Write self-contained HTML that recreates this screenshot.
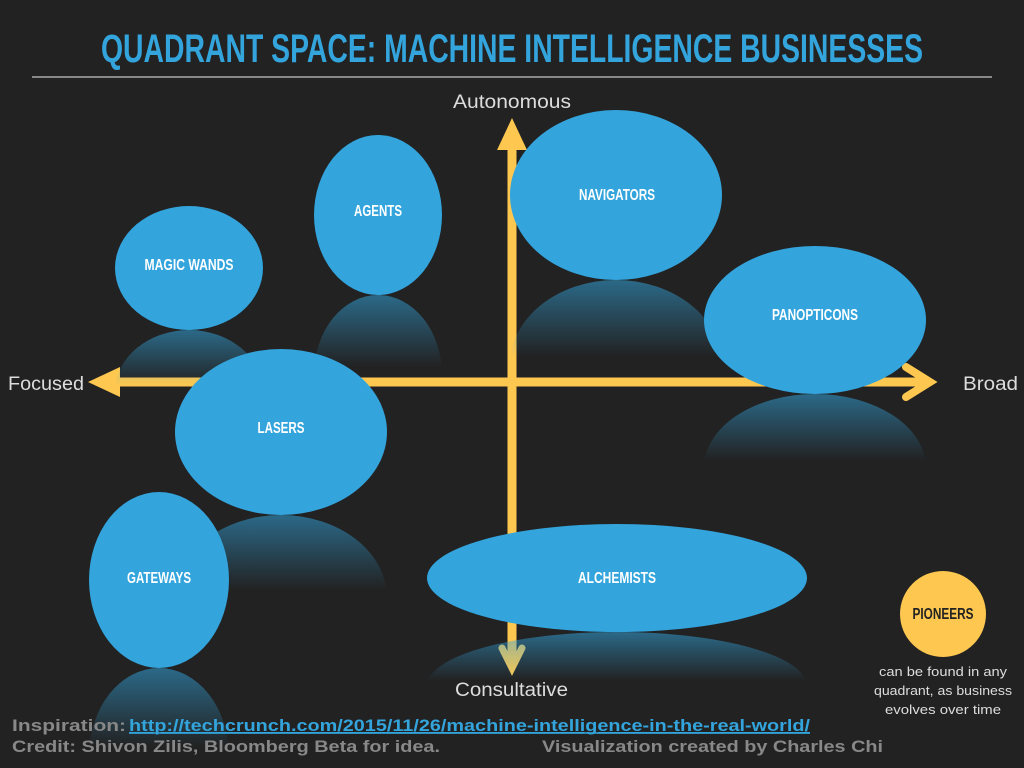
<!DOCTYPE html>
<html><head><meta charset="utf-8"><style>
html,body{margin:0;background:#222;overflow:hidden;width:1024px;height:768px;}
svg{display:block;}
</style></head><body>
<svg width="1024" height="768" viewBox="0 0 1024 768" xmlns="http://www.w3.org/2000/svg">
<defs>
<linearGradient id="rf" x1="0" y1="0" x2="0" y2="1">
<stop offset="0" stop-color="#33a4dc" stop-opacity="0.55"/>
<stop offset="0.45" stop-color="#33a4dc" stop-opacity="0"/>
</linearGradient>
<clipPath id="cp"><rect width="1024" height="768"/></clipPath>
</defs>
<g clip-path="url(#cp)">
<rect width="1024" height="768" fill="#222"/>
<text x="512" y="62" text-anchor="middle" font-family="Liberation Sans, sans-serif" font-weight="bold" font-size="40" fill="#33a4dc" textLength="822" lengthAdjust="spacingAndGlyphs">QUADRANT SPACE: MACHINE INTELLIGENCE BUSINESSES</text>
<line x1="32" y1="77" x2="992" y2="77" stroke="#888" stroke-width="2"/>

<g font-family="Liberation Sans, sans-serif" fill="#ddd" font-size="19">
<text x="453" y="108" textLength="118" lengthAdjust="spacingAndGlyphs">Autonomous</text>
<text x="455" y="696" textLength="113" lengthAdjust="spacingAndGlyphs">Consultative</text>
<text x="8" y="390" textLength="76" lengthAdjust="spacingAndGlyphs">Focused</text>
<text x="963" y="390" textLength="55" lengthAdjust="spacingAndGlyphs">Broad</text>
</g>

<g stroke="#fdc750" fill="#fdc750">
<line x1="512" y1="140" x2="512" y2="660" stroke-width="9"/>
<polygon points="512,118 497,150 527,150" stroke="none"/>
<line x1="115" y1="382" x2="930" y2="382" stroke-width="9"/>
<polygon points="88,382 120,367 120,397" stroke="none"/>
<polyline points="906,367 930,382 906,397" fill="none" stroke-width="8" stroke-linecap="round"/>
<polyline points="502,648 512,668 522,648" fill="none" stroke-width="7" stroke-linecap="round"/>
</g>

<g fill="url(#rf)">
<ellipse cx="189" cy="392" rx="74" ry="62"/>
<ellipse cx="378" cy="375" rx="64" ry="80"/>
<ellipse cx="616" cy="365" rx="106" ry="85"/>
<ellipse cx="815" cy="468" rx="111" ry="74"/>
<ellipse cx="281" cy="598" rx="106" ry="83"/>
<ellipse cx="159" cy="756" rx="70" ry="88"/>
<ellipse cx="617" cy="686" rx="190" ry="54"/>
</g>

<g fill="#33a4dc">
<ellipse cx="189" cy="268" rx="74" ry="62"/>
<ellipse cx="378" cy="215" rx="64" ry="80"/>
<ellipse cx="616" cy="195" rx="106" ry="85"/>
<ellipse cx="815" cy="320" rx="111" ry="74"/>
<ellipse cx="281" cy="432" rx="106" ry="83"/>
<ellipse cx="159" cy="580" rx="70" ry="88"/>
<ellipse cx="617" cy="578" rx="190" ry="54"/>
</g>
<circle cx="943" cy="614" r="43" fill="#fdc750"/>

<g font-family="Liberation Sans, sans-serif" font-weight="bold" font-size="16" fill="#fff" text-anchor="middle" lengthAdjust="spacingAndGlyphs">
<text x="189" y="270" textLength="89" lengthAdjust="spacingAndGlyphs">MAGIC WANDS</text>
<text x="378" y="216" textLength="48" lengthAdjust="spacingAndGlyphs">AGENTS</text>
<text x="617" y="200" textLength="76" lengthAdjust="spacingAndGlyphs">NAVIGATORS</text>
<text x="815" y="320" textLength="86" lengthAdjust="spacingAndGlyphs">PANOPTICONS</text>
<text x="281" y="433" textLength="47" lengthAdjust="spacingAndGlyphs">LASERS</text>
<text x="159" y="583" textLength="64" lengthAdjust="spacingAndGlyphs">GATEWAYS</text>
<text x="617" y="583" textLength="78" lengthAdjust="spacingAndGlyphs">ALCHEMISTS</text>
<text x="943" y="619" fill="#222" textLength="61" lengthAdjust="spacingAndGlyphs">PIONEERS</text>
</g>
<g font-family="Liberation Sans, sans-serif" font-size="13" fill="#ddd" text-anchor="middle">
<text x="943" y="676" textLength="128" lengthAdjust="spacingAndGlyphs">can be found in any</text>
<text x="943" y="695" textLength="138" lengthAdjust="spacingAndGlyphs">quadrant, as business</text>
<text x="943" y="714" textLength="116" lengthAdjust="spacingAndGlyphs">evolves over time</text>
</g>

<g font-family="Liberation Sans, sans-serif" font-weight="bold" font-size="17" fill="#888">
<text x="12" y="731" textLength="114" lengthAdjust="spacingAndGlyphs">Inspiration:</text>
<text x="129" y="731" fill="#33a4dc" text-decoration="underline" textLength="681" lengthAdjust="spacingAndGlyphs">http://techcrunch.com/2015/11/26/machine-intelligence-in-the-real-world/</text>
<line x1="129" y1="733" x2="810" y2="733" stroke="#33a4dc" stroke-width="1.5"/>
<text x="12" y="752" textLength="428" lengthAdjust="spacingAndGlyphs">Credit: Shivon Zilis, Bloomberg Beta for idea.</text>
<text x="542" y="752" textLength="341" lengthAdjust="spacingAndGlyphs">Visualization created by Charles Chi</text>
</g>
</g>
</svg>
</body></html>
